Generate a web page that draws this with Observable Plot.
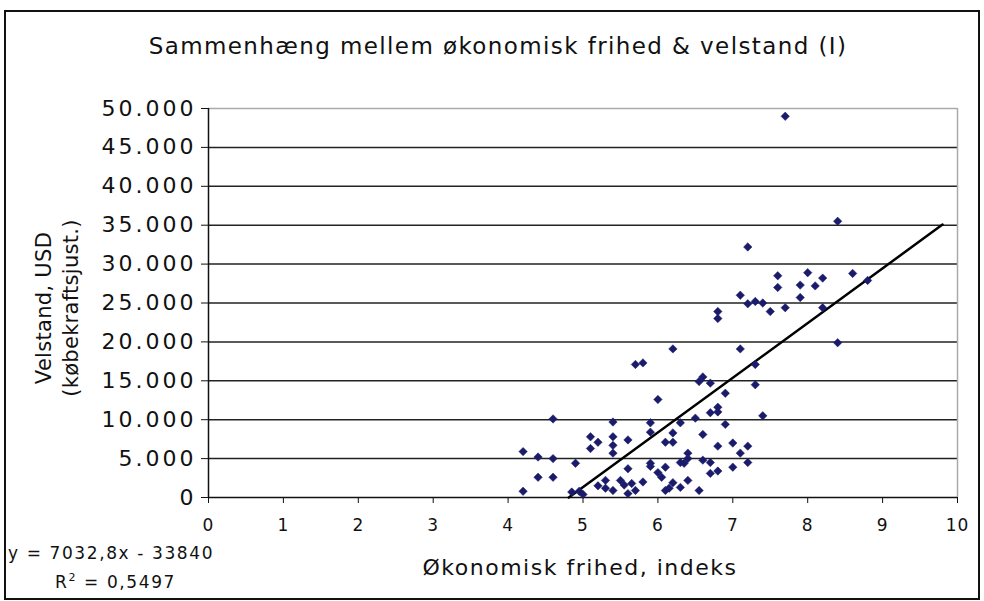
<!DOCTYPE html>
<html><head><meta charset="utf-8">
<script src="https://cdn.jsdelivr.net/npm/d3@7"></script>
<script src="https://cdn.jsdelivr.net/npm/@observablehq/plot@0.6"></script>
<style>
body{margin:0;background:#fff;font-family:"DejaVu Sans",Verdana,sans-serif;}
#wrap{position:relative;width:984px;height:601px;overflow:hidden;background:#fff;}
#frame{position:absolute;left:4px;top:10px;width:972px;height:586px;border:2px solid #111;}
.t{position:absolute;white-space:nowrap;color:#111;line-height:1;}
#chart{position:absolute;left:0;top:0;}
g[aria-label="y-axis tick label"] text{letter-spacing:3px;}
g[aria-label="x-axis tick label"] text{letter-spacing:1px;}
</style></head>
<body><div id="wrap"><div id="frame"></div>
<div id="chart"></div>
<div class="t" style="left:498px;top:46px;transform:translate(-50%,-50%);font-size:23px;letter-spacing:1.4px;">Sammenhæng mellem økonomisk frihed &amp; velstand (I)</div>
<div class="t" style="left:58px;top:308px;transform:translate(-50%,-50%) rotate(-90deg);font-size:21px;text-align:center;line-height:27px;letter-spacing:0.3px;">Velstand, USD<br>(købekraftsjust.)</div>
<div class="t" style="left:580px;top:568px;transform:translate(-50%,-50%);font-size:22px;letter-spacing:1.5px;">Økonomisk frihed, indeks</div>
<div class="t" style="left:8px;top:545px;font-size:17px;letter-spacing:1.6px;">y = 7032,8x - 33840</div>
<div class="t" style="left:55px;top:574px;font-size:17px;letter-spacing:1.6px;">R<sup style="font-size:11px;vertical-align:7px;line-height:0">2</sup> = 0,5497</div>
</div>
<script>
// Economic freedom index (x) and wealth, USD PPP (y)
const frihed = [7.7,8.4,7.2,7.6,7.6,8.0,8.2,8.1,7.9,7.9,8.6,8.8,7.1,7.2,7.3,7.4,7.5,7.7,8.2,6.8,6.8,8.4,6.2,7.1,7.3,5.7,5.8,6.55,6.6,6.7,6.9,7.3,6.0,6.7,6.8,6.8,6.5,6.3,6.9,7.4,5.9,6.2,6.6,6.1,6.2,6.8,7.0,7.2,7.1,6.4,6.3,6.6,6.7,6.8,6.7,7.0,7.2,6.1,6.05,6.2,6.3,6.4,6.1,5.9,4.6,5.4,5.1,5.2,5.1,5.4,5.4,5.6,5.4,5.9,4.2,4.4,4.6,4.9,4.4,4.6,4.2,4.85,4.95,5.6,5.9,6.0,5.3,5.5,5.55,5.65,5.7,5.4,5.3,6.35,5.6,5.0,6.4,5.8,6.15,6.55,5.2];
const velstand = [49000,35500,32200,28500,27000,28900,28200,27200,27300,25700,28800,27900,26000,24900,25200,25000,23900,24400,24400,23900,23000,19900,19100,19100,17100,17100,17300,14900,15500,14700,13400,14500,12600,10900,11600,11000,10200,9600,9400,10500,9600,8300,8100,7100,7100,6600,7000,6600,5700,5700,4500,4800,4500,3400,3100,3900,4500,3900,2600,1900,1300,2200,900,4400,10100,9700,7800,7100,6300,7800,6700,7400,5700,8400,5900,5200,5000,4400,2600,2600,800,700,800,3700,4000,3200,2200,2200,1600,1800,900,900,1200,4400,500,400,5000,2000,1200,900,1500];
const xTicks = [0,1,2,3,4,5,6,7,8,9,10];
const yTicks = [0,5000,10000,15000,20000,25000,30000,35000,40000,45000,50000];
// Trendline as shown in the chart: y = 7032,8x - 33840, drawn from x = 4.81 to 9.8
const trendSlope = 7032.8;
const trendIntercept = -33840;
const trendRange = [4.81, 9.8];

const points = frihed.map((x, i) => ({x, y: velstand[i]}));
const trend = trendRange.map(x => ({x, y: trendSlope * x + trendIntercept}));
const fmt = d => d3.format(",")(d).replace(/,/g, ".");
const navy = "#1b1b6b";

const chart = Plot.plot({
  width: 984, height: 601,
  marginLeft: 208, marginRight: 27, marginTop: 108, marginBottom: 104,
  style: {background: "transparent", fontFamily: "DejaVu Sans, Verdana, sans-serif", color: "#111", overflow: "visible"},
  x: {domain: [0, 10]},
  y: {domain: [0, 50000]},
  marks: [
    Plot.ruleY(yTicks.filter(d => d > 0 && d < 50000), {stroke: "#222", strokeWidth: 1.5}),
    Plot.ruleY([50000], {stroke: "#aaa", strokeWidth: 1.5}),
    Plot.ruleX([10], {stroke: "#aaa", strokeWidth: 1.5}),
    Plot.axisY({ticks: yTicks, tickFormat: fmt, fontSize: 22, tickSize: 7, tickPadding: 5, label: null}),
    Plot.axisX({ticks: xTicks, fontSize: 17, tickSize: 6, tickPadding: 15, label: null}),
    Plot.ruleY([0], {stroke: "#111", strokeWidth: 1.5}),
    Plot.ruleX([0], {stroke: "#111", strokeWidth: 1.5}),
    Plot.line(trend, {x: "x", y: "y", stroke: "#000", strokeWidth: 2.5}),
    Plot.dot(points, {x: "x", y: "y", symbol: "diamond2", r: 3.8, fill: navy, stroke: navy, strokeWidth: 0.5})
  ]
});
document.getElementById("chart").appendChild(chart);
</script>
</body></html>
